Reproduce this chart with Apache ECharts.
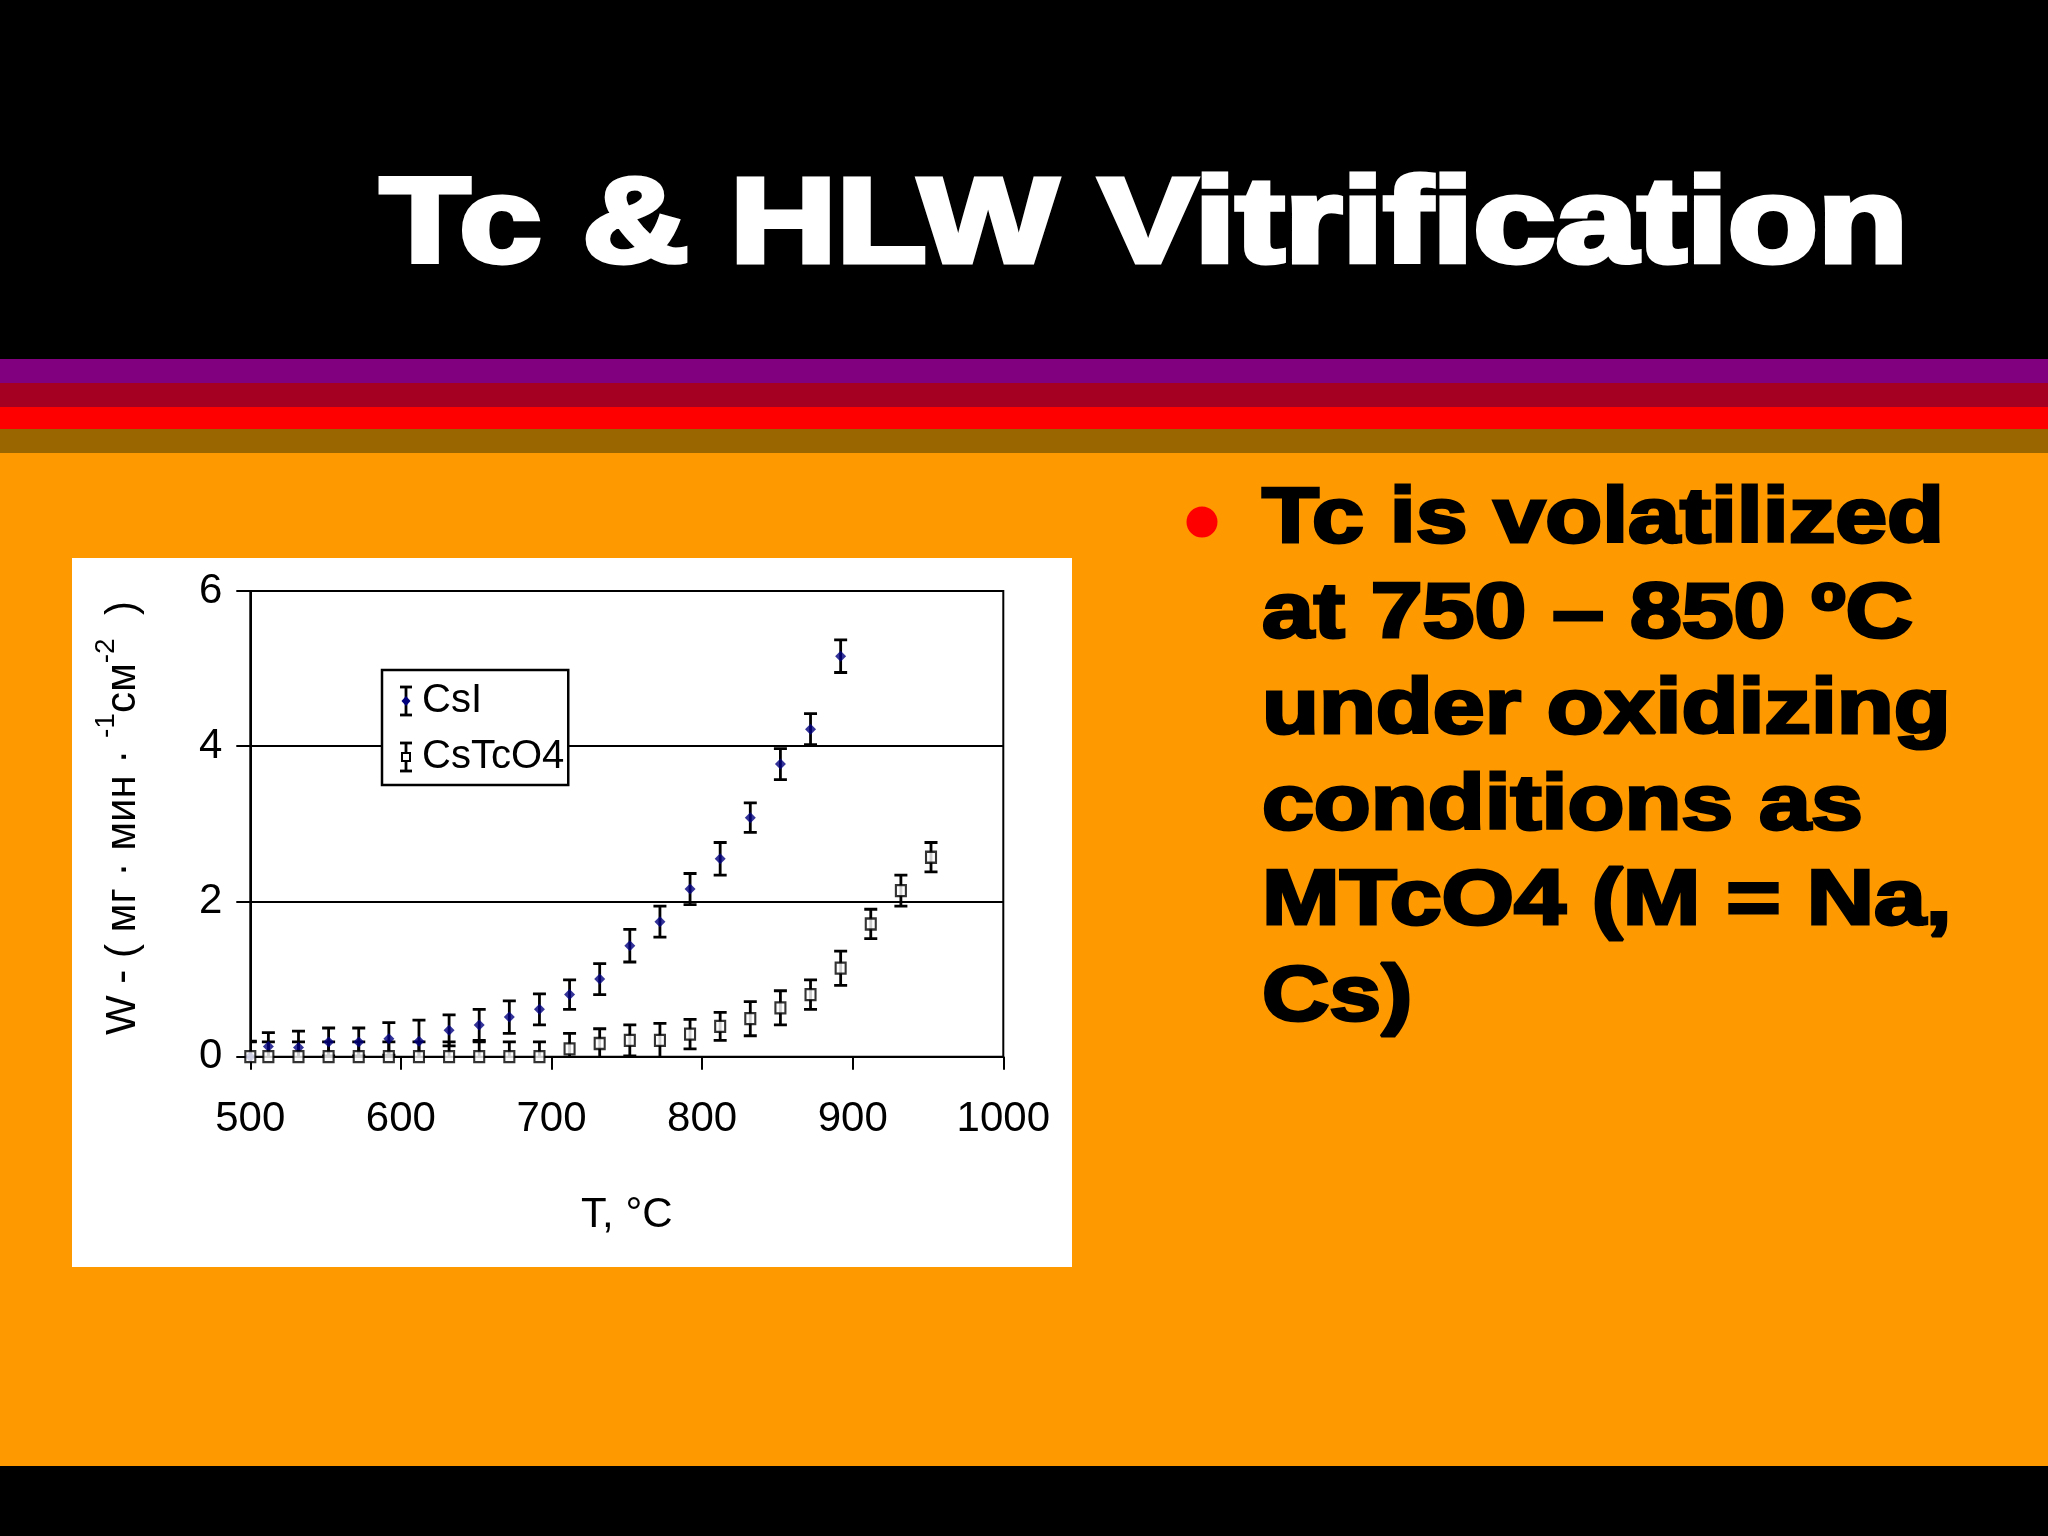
<!DOCTYPE html>
<html>
<head>
<meta charset="utf-8">
<script src="https://cdn.jsdelivr.net/npm/echarts@6/dist/echarts.min.js"></script>
<style>
html,body{margin:0;padding:0;background:#000;}
#chart{width:2048px;height:1536px;}
</style>
</head>
<body>
<div id="chart"></div>
<script>
// ---- data ----
const temps = [500, 512, 532, 552, 572, 592, 612, 632, 652, 672, 692, 712, 732, 752, 772, 792, 812, 832, 852, 872, 892, 912, 932, 952];
const csiW   = [0.0, 0.13, 0.12, 0.19, 0.19, 0.23, 0.20, 0.34, 0.41, 0.51, 0.61, 0.80, 1.00, 1.43, 1.74, 2.16, 2.55, 3.08, 3.77, 4.22, 5.16];
const csiErr = [0.20, 0.18, 0.21, 0.18, 0.18, 0.21, 0.27, 0.20, 0.20, 0.21, 0.20, 0.19, 0.20, 0.21, 0.20, 0.20, 0.21, 0.19, 0.20, 0.20, 0.21];
const tco4W   = [0, 0, 0, 0, 0, 0, 0, 0, 0, 0, 0, 0.10, 0.17, 0.21, 0.21, 0.29, 0.39, 0.49, 0.63, 0.80, 1.14, 1.71, 2.14, 2.57];
const tco4Err = [0.19, 0.19, 0.19, 0.19, 0.19, 0.19, 0.19, 0.19, 0.19, 0.19, 0.19, 0.20, 0.19, 0.20, 0.22, 0.19, 0.18, 0.22, 0.22, 0.19, 0.22, 0.19, 0.20, 0.19];
const seriesNames = ['CsI', 'CsTcO4'];
const xRange = [500, 1000, 100];
const yRange = [0, 6, 2];
const titleText = 'Tc & HLW Vitrification';
const bulletLines = ['Tc is volatilized', 'at 750 – 850 ºC', 'under oxidizing', 'conditions as', 'MTcO4 (M = Na,', 'Cs)'];

// ---- build ----
const csiPts = csiW.map((w, i) => [temps[i], w]);
const csiBars = csiW.map((w, i) => [temps[i], w, csiErr[i]]);
const tcPts = tco4W.map((w, i) => [temps[i], w]);
const tcBars = tco4W.map((w, i) => [temps[i], w, tco4Err[i]]);

const NARROW = "'Liberation Sans Narrow','Arial Narrow','Liberation Sans',Arial,sans-serif";
const BOLD = "'Liberation Sans',Arial,sans-serif";

function errRender(params, api) {
  const x = api.value(0), y = api.value(1), e = api.value(2);
  const t = api.coord([x, y + e]);
  const b = api.coord([x, y - e]);
  const hw = 6.5;
  const st = {stroke: '#000', lineWidth: 2.8};
  return {type: 'group', children: [
    {type: 'line', shape: {x1: t[0], y1: t[1], x2: b[0], y2: b[1]}, style: st},
    {type: 'line', shape: {x1: t[0] - hw, y1: t[1], x2: t[0] + hw, y2: t[1]}, style: st},
    {type: 'line', shape: {x1: b[0] - hw, y1: b[1], x2: b[0] + hw, y2: b[1]}, style: st}
  ]};
}

function svgIcon(inner) {
  const svg = "<svg xmlns='http://www.w3.org/2000/svg' width='14' height='32' viewBox='0 0 14 32'>" +
    "<g stroke='#000' stroke-width='2.8' fill='none'><line x1='1' y1='2' x2='13' y2='2'/><line x1='7' y1='2' x2='7' y2='30'/><line x1='1' y1='30' x2='13' y2='30'/></g>" +
    inner + "</svg>";
  return 'image://data:image/svg+xml;charset=utf-8,' + encodeURIComponent(svg);
}
const iconCsI = svgIcon("<polygon points='7,11 11.5,16 7,21 2.5,16' fill='#00007f'/>");
const iconTc = svgIcon("<rect x='3' y='12' width='8' height='8' fill='#fff' stroke='#000' stroke-width='2'/>");

const graphics = [
  {type: 'rect', z: -10, shape: {x: 0, y: 0, width: 2048, height: 360}, style: {fill: '#000000'}},
  {type: 'rect', z: -10, shape: {x: 0, y: 359, width: 2048, height: 24}, style: {fill: '#800080'}},
  {type: 'rect', z: -10, shape: {x: 0, y: 383, width: 2048, height: 24}, style: {fill: '#A50021'}},
  {type: 'rect', z: -10, shape: {x: 0, y: 407, width: 2048, height: 22}, style: {fill: '#FF0000'}},
  {type: 'rect', z: -10, shape: {x: 0, y: 429, width: 2048, height: 24}, style: {fill: '#996600'}},
  {type: 'rect', z: -10, shape: {x: 0, y: 453, width: 2048, height: 1013}, style: {fill: '#FF9900'}},
  {type: 'rect', z: -10, shape: {x: 0, y: 1466, width: 2048, height: 70}, style: {fill: '#000000'}},
  {type: 'rect', z: -9, shape: {x: 72, y: 558, width: 1000, height: 709}, style: {fill: '#FFFFFF'}},
  {type: 'text', z: -5, x: 1144, y: 229, scaleX: 1.23,
   style: {text: titleText, fill: '#FFFFFF', stroke: '#FFFFFF', lineWidth: 5, fontSize: 120, fontWeight: 'bold', fontFamily: BOLD, align: 'center', verticalAlign: 'middle'}},
  {type: 'circle', z: -5, shape: {cx: 1202, cy: 522, r: 15.5}, style: {fill: '#FF0000'}}
];
bulletLines.forEach((ln, i) => {
  graphics.push({type: 'text', z: -5, x: 1262, y: 520 + i * 95.7, scaleX: 1.195,
    style: {text: ln, fill: '#000000', stroke: '#000000', lineWidth: 3, fontSize: 78, fontWeight: 'bold', fontFamily: BOLD, align: 'left', verticalAlign: 'middle'}});
});

const chart = echarts.init(document.getElementById('chart'));
chart.setOption({
  backgroundColor: '#FF9900',
  animation: false,
  graphic: graphics,
  grid: {left: 250.3, right: 1044.7, top: 591, bottom: 479.3, show: true, borderColor: '#000', borderWidth: 2, backgroundColor: 'transparent'},
  legend: {
    orient: 'vertical', left: 382, top: 670,
    backgroundColor: '#fff', borderColor: '#000', borderWidth: 2.5, borderRadius: 0,
    padding: [11, 4, 8, 17], itemGap: 16, itemWidth: 14, itemHeight: 32,
    textStyle: {fontSize: 40, fontFamily: NARROW, color: '#000', padding: [0, 0, 0, 4]},
    selectedMode: false,
    data: [{name: seriesNames[0], icon: iconCsI}, {name: seriesNames[1], icon: iconTc}]
  },
  xAxis: {
    type: 'value', min: xRange[0], max: xRange[1], interval: xRange[2],
    name: 'T, °C', nameLocation: 'middle', nameGap: 138,
    nameTextStyle: {fontSize: 42, fontFamily: NARROW, color: '#000'},
    axisLine: {show: true, onZero: false, lineStyle: {color: '#000', width: 2}},
    axisTick: {show: true, inside: false, length: 13, lineStyle: {color: '#000', width: 2}},
    axisLabel: {fontSize: 42, fontFamily: NARROW, color: '#000', margin: 42, formatter: v => String(v)},
    splitLine: {show: false}
  },
  yAxis: {
    type: 'value', min: yRange[0], max: yRange[1], interval: yRange[2],
    name: '{b| W - ( мг · мин · }{s|-1}{b|см}{s|-2}{b|  )}', nameLocation: 'middle', nameRotate: 90, nameGap: 106,
    nameTextStyle: {
      fontFamily: NARROW, color: '#000',
      rich: {
        b: {fontSize: 42, fontFamily: NARROW, color: '#000', lineHeight: 52, verticalAlign: 'bottom'},
        s: {fontSize: 28, fontFamily: NARROW, color: '#000', lineHeight: 52, verticalAlign: 'top'}
      }
    },
    axisLine: {show: true, lineStyle: {color: '#000', width: 2}},
    axisTick: {show: true, inside: false, length: 14, lineStyle: {color: '#000', width: 2}},
    axisLabel: {fontSize: 42, fontFamily: NARROW, color: '#000', margin: 28},
    splitLine: {show: true, lineStyle: {color: '#000', width: 2}}
  },
  series: [
    {name: seriesNames[0], type: 'custom', renderItem: errRender, data: csiBars, clip: true, z: 3,
     encode: {x: 0, y: 1}, itemStyle: {color: '#00007f'}},
    {name: seriesNames[1], type: 'custom', renderItem: errRender, data: tcBars, clip: true, z: 3,
     encode: {x: 0, y: 1}, itemStyle: {color: '#000'}},
    {name: seriesNames[0], type: 'scatter', data: csiPts, symbol: 'diamond', symbolSize: 11, clip: false, z: 4,
     itemStyle: {color: '#00007f'}},
    {name: seriesNames[1], type: 'scatter', data: tcPts, symbol: 'rect', symbolSize: [10, 11], clip: false, z: 5,
     itemStyle: {color: '#fff', borderColor: '#000', borderWidth: 2.2}}
  ]
});
</script>
</body>
</html>
